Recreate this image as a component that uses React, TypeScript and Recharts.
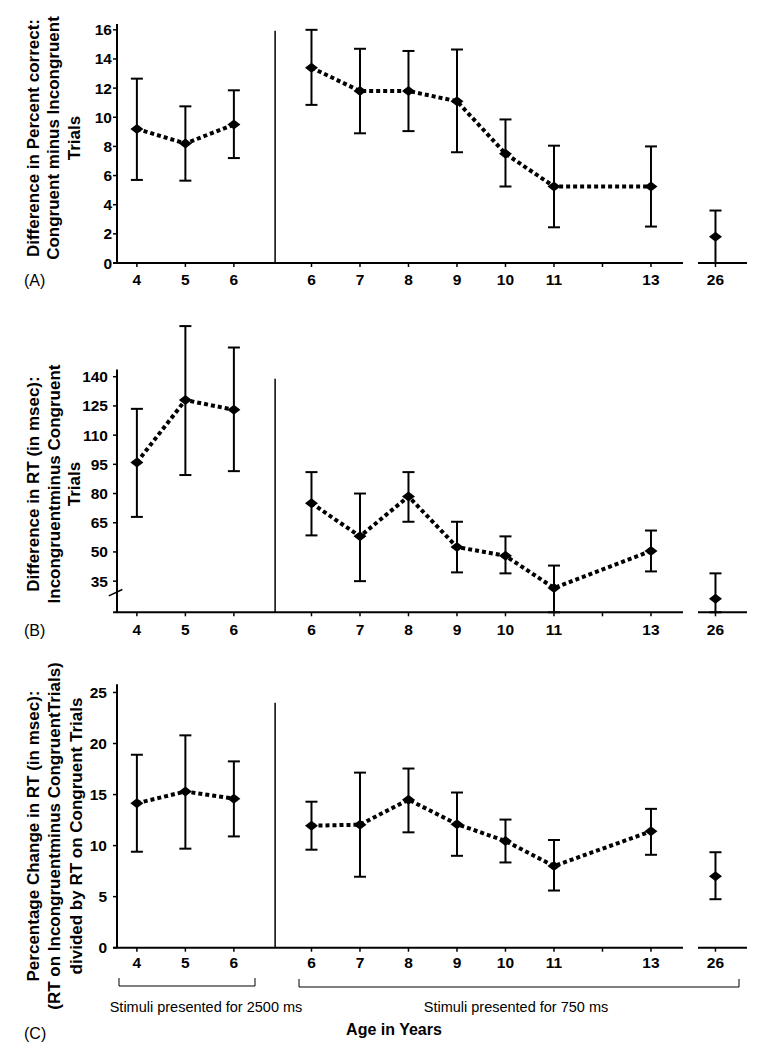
import { ComposedChart, Line, XAxis, YAxis, ErrorBar, ReferenceLine } from "recharts"

const FONT = "'Liberation Sans', Arial, sans-serif"

// ages on the broken x axis
const ages2500 = [4, 5, 6]
const ages750 = [6, 7, 8, 9, 10, 11, 13]
const agesAdult = [26]

// (A) difference in percent correct
const pcMean2500 = [9.2, 8.2, 9.5]
const pcLow2500 = [5.7, 5.65, 7.2]
const pcHigh2500 = [12.65, 10.75, 11.85]
const pcMean750 = [13.4, 11.8, 11.8, 11.1, 7.5, 5.25, 5.25]
const pcLow750 = [10.85, 8.9, 9.05, 7.6, 5.25, 2.45, 2.5]
const pcHigh750 = [16.0, 14.7, 14.55, 14.65, 9.85, 8.05, 8.0]
const pcMeanAdult = [1.8]
const pcLowAdult = [0]
const pcHighAdult = [3.6]

// (B) difference in RT (msec)
const rtMean2500 = [96, 128, 123]
const rtLow2500 = [68, 89.5, 91.5]
const rtHigh2500 = [123.5, 166, 155]
const rtMean750 = [75, 58, 78.5, 52.5, 48, 31.5, 50.5]
const rtLow750 = [58.5, 35, 65.5, 39.5, 39, 19, 40]
const rtHigh750 = [91, 80, 91, 65.5, 58, 43, 61]
const rtMeanAdult = [26]
const rtLowAdult = [19]
const rtHighAdult = [39]

// (C) percentage change in RT
const pctMean2500 = [14.15, 15.3, 14.6]
const pctLow2500 = [9.4, 9.7, 10.9]
const pctHigh2500 = [18.9, 20.8, 18.25]
const pctMean750 = [11.95, 12.05, 14.5, 12.1, 10.45, 8.0, 11.4]
const pctLow750 = [9.6, 6.95, 11.3, 9.0, 8.35, 5.6, 9.1]
const pctHigh750 = [14.3, 17.15, 17.55, 15.2, 12.55, 10.55, 13.6]
const pctMeanAdult = [7.0]
const pctLowAdult = [4.75]
const pctHighAdult = [9.35]

const pcTicks = [0, 2, 4, 6, 8, 10, 12, 14, 16]
const rtTicks = [35, 50, 65, 80, 95, 110, 125, 140]
const pctTicks = [0, 5, 10, 15, 20, 25]

// broken axis: 2500 ms group, 750 ms group, adults
const pos2500 = (i: number) => i
const pos750 = (age: number) => age - 2.4
const POS_ADULT = 11.93
const X_MIN = -0.41
const X_MAX = 12.58
const DIVIDER = 2.85
const BREAK_L = 11.26
const BREAK_R = 11.57

const xTickItems = [
  ...ages2500.map((a, i) => ({ pos: pos2500(i), label: String(a) })),
  ...[6, 7, 8, 9, 10, 11, 12, 13].map((a) => ({ pos: pos750(a), label: ages750.includes(a) ? String(a) : " " })),
  ...agesAdult.map((a) => ({ pos: POS_ADULT, label: String(a) })),
]
const xTicks = xTickItems.map((t) => t.pos)
const xLabel = (v: number) => {
  const t = xTickItems.find((it) => Math.abs(it.pos - v) < 1e-6)
  return t ? t.label : " "
}

const makeRows = (pos: number[], mean: number[], low: number[], high: number[]) =>
  pos.map((x, i) => ({ x, mean: mean[i], err: [mean[i] - low[i], high[i] - mean[i]] }))

const Diamond = (props: any) => {
  const { cx, cy, index } = props
  if (cx == null || cy == null) return <g key={index} />
  return (
    <path
      key={index}
      d={`M${cx - 6.5},${cy} L${cx},${cy - 5} L${cx + 6.5},${cy} L${cx},${cy + 5} Z`}
      fill="#000"
    />
  )
}

interface PanelProps {
  top: number
  height: number
  marginTop: number
  marginBottom: number
  domain: [number, number]
  yTicks: number[]
  axisTop: number
  dividerTop: number
  brokenY?: boolean
  xTickMargin: number
  yTickMargin: number
  groups: { mean: number[]; low: number[]; high: number[]; pos: number[] }[]
}

function Panel(p: PanelProps) {
  const tickStyle = { fill: "#000", fontSize: 15.5, fontWeight: "bold", fontFamily: FONT }
  const lineProps = {
    type: "linear" as const,
    dataKey: "mean",
    stroke: "#000",
    strokeWidth: 4,
    strokeDasharray: "4 3",
    dot: Diamond,
    activeDot: false,
    isAnimationActive: false,
  }
  return (
    <div style={{ position: "absolute", left: 0, top: p.top }}>
      <ComposedChart
        width={784}
        height={p.height}
        margin={{ top: p.marginTop, right: 37, left: 77, bottom: p.marginBottom }}
      >
        <XAxis
          type="number"
          dataKey="x"
          domain={[X_MIN, X_MAX]}
          allowDataOverflow
          ticks={xTicks}
          interval={0}
          tickFormatter={xLabel}
          axisLine={false}
          tickLine={{ stroke: "#000", strokeWidth: 1.5 }}
          tickSize={4}
          tickMargin={p.xTickMargin}
          height={30}
          tick={tickStyle}
        />
        <YAxis
          type="number"
          domain={p.domain}
          allowDataOverflow
          ticks={p.yTicks}
          interval={0}
          width={40}
          axisLine={false}
          tickLine={{ stroke: "#000", strokeWidth: 1.5 }}
          tickSize={4}
          tickMargin={p.yTickMargin}
          tick={tickStyle}
        />
        {/* y axis line */}
        <ReferenceLine
          segment={[{ x: X_MIN, y: p.domain[0] }, { x: X_MIN, y: p.axisTop }]}
          stroke="#000"
          strokeWidth={2}
          ifOverflow="visible"
        />
        {/* x axis with a break before the adult group */}
        <ReferenceLine
          segment={[{ x: X_MIN - 0.08, y: p.domain[0] }, { x: BREAK_L, y: p.domain[0] }]}
          stroke="#000"
          strokeWidth={2}
          ifOverflow="visible"
        />
        <ReferenceLine
          segment={[{ x: BREAK_R, y: p.domain[0] }, { x: X_MAX, y: p.domain[0] }]}
          stroke="#000"
          strokeWidth={2}
          ifOverflow="visible"
        />
        {/* divider between 2500 ms and 750 ms conditions */}
        <ReferenceLine
          segment={[{ x: DIVIDER, y: p.domain[0] }, { x: DIVIDER, y: p.dividerTop }]}
          stroke="#000"
          strokeWidth={1.5}
          ifOverflow="visible"
        />
        {p.brokenY && (
          <ReferenceLine
            segment={[{ x: X_MIN - 0.17, y: 27.4 }, { x: X_MIN + 0.11, y: 30.7 }]}
            stroke="#000"
            strokeWidth={1.5}
            ifOverflow="visible"
          />
        )}
        {p.groups.map((g, gi) => (
          <Line key={gi} {...lineProps} data={makeRows(g.pos, g.mean, g.low, g.high)}>
            <ErrorBar dataKey="err" direction="y" width={6} stroke="#000" strokeWidth={2} />
          </Line>
        ))}
      </ComposedChart>
    </div>
  )
}

const posLeft = ages2500.map((_, i) => pos2500(i))
const posRight = ages750.map(pos750)
const posAdult = agesAdult.map(() => POS_ADULT)

function RotLabel({ x, y, lines }: { x: number[]; y: number; lines: string[] }) {
  return (
    <>
      {lines.map((t, i) => (
        <text
          key={i}
          transform={`translate(${x[i]}, ${y}) rotate(-90)`}
          textAnchor="middle"
          dominantBaseline="central"
          fontFamily={FONT}
          fontWeight="bold"
          fontSize={17}
          fill="#000"
        >
          {t}
        </text>
      ))}
    </>
  )
}

export default function App() {
  return (
    <div style={{ position: "absolute", left: 0, top: 0, width: 784, height: 1045, background: "#fff" }}>
      <Panel
        top={0}
        height={300}
        marginTop={24}
        marginBottom={7}
        domain={[0, 16.4]}
        yTicks={pcTicks}
        axisTop={16.4}
        dividerTop={15.93}
        xTickMargin={7}
        yTickMargin={1}
        groups={[
          { pos: posLeft, mean: pcMean2500, low: pcLow2500, high: pcHigh2500 },
          { pos: posRight, mean: pcMean750, low: pcLow750, high: pcHigh750 },
          { pos: posAdult, mean: pcMeanAdult, low: pcLowAdult, high: pcHighAdult },
        ]}
      />
      <Panel
        top={300}
        height={345}
        marginTop={22.2}
        marginBottom={2.7}
        domain={[19, 168]}
        yTicks={rtTicks}
        axisTop={143.7}
        dividerTop={139}
        brokenY
        xTickMargin={8}
        yTickMargin={5}
        groups={[
          { pos: posLeft, mean: rtMean2500, low: rtLow2500, high: rtHigh2500 },
          { pos: posRight, mean: rtMean750, low: rtLow750, high: rtHigh750 },
          { pos: posAdult, mean: rtMeanAdult, low: rtLowAdult, high: rtHighAdult },
        ]}
      />
      <Panel
        top={650}
        height={395}
        marginTop={34.3}
        marginBottom={67.3}
        domain={[0, 25.8]}
        yTicks={pctTicks}
        axisTop={25.8}
        dividerTop={24}
        xTickMargin={5}
        yTickMargin={6}
        groups={[
          { pos: posLeft, mean: pctMean2500, low: pctLow2500, high: pctHigh2500 },
          { pos: posRight, mean: pctMean750, low: pctLow750, high: pctHigh750 },
          { pos: posAdult, mean: pctMeanAdult, low: pctLowAdult, high: pctHighAdult },
        ]}
      />
      <svg
        width={784}
        height={1045}
        style={{ position: "absolute", left: 0, top: 0, pointerEvents: "none" }}
      >
        <RotLabel
          x={[33, 53, 74]}
          y={138}
          lines={["Difference in Percent correct:", "Congruent minus Incongruent", "Trials"]}
        />
        <RotLabel
          x={[33, 54, 74]}
          y={484}
          lines={["Difference in RT (in msec):", "Incongruentminus Congruent", "Trials"]}
        />
        <RotLabel
          x={[33, 54, 76]}
          y={836}
          lines={[
            "Percentage Change in RT (in msec):",
            "(RT on Incongruentminus CongruentTrials)",
            "divided by RT on Congruent Trials",
          ]}
        />
        <g fontFamily={FONT} fontSize={16} fill="#000">
          <text x={24} y={286}>(A)</text>
          <text x={24} y={636}>(B)</text>
          <text x={24} y={1039}>(C)</text>
        </g>
        <path d="M119,978 L119,986 L255,986 L255,978" fill="none" stroke="#000" strokeWidth={1} />
        <path d="M299,979 L299,987 L739,987 L739,979" fill="none" stroke="#000" strokeWidth={1} />
        <g fontFamily={FONT} fontSize={14.5} fill="#000" textAnchor="middle">
          <text x={206} y={1012}>Stimuli presented for 2500 ms</text>
          <text x={516} y={1012}>Stimuli presented for 750 ms</text>
        </g>
        <text x={394} y={1035} textAnchor="middle" fontFamily={FONT} fontSize={16} fontWeight="bold" fill="#000">
          Age in Years
        </text>
      </svg>
    </div>
  )
}
